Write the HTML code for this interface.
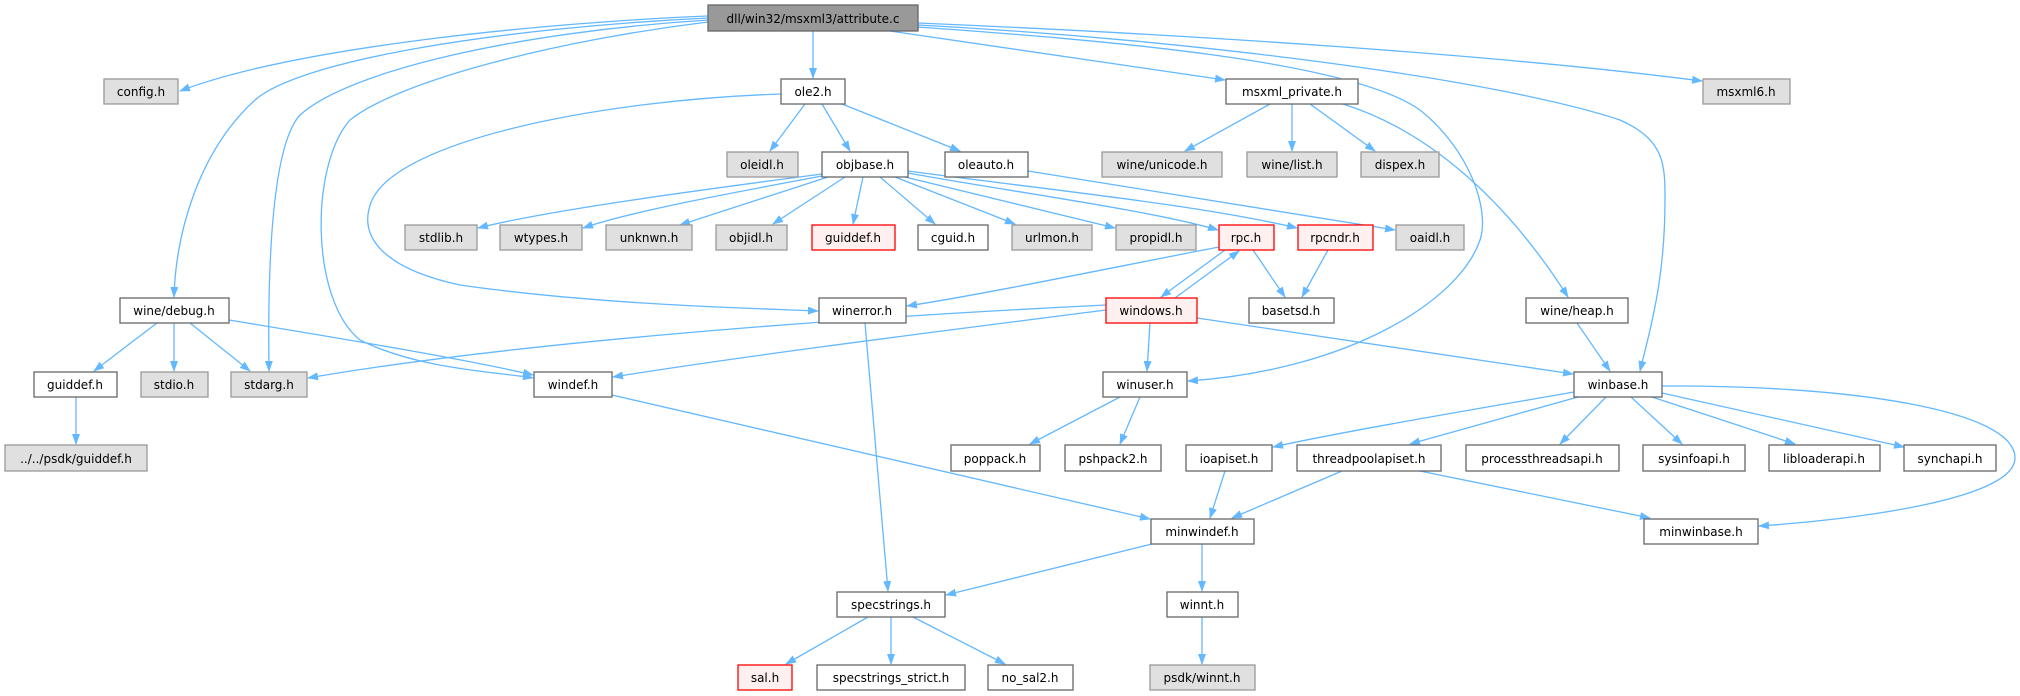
<!DOCTYPE html>
<html><head><meta charset="utf-8"><style>
html,body{margin:0;padding:0;background:#fff;width:2020px;height:696px;overflow:hidden}
svg{display:block}
text{font-family:"DejaVu Sans","Liberation Sans",sans-serif;font-size:12px;fill:#000;text-anchor:middle}
.e{fill:none;stroke:#63b8ff;stroke-width:1.3}
.w{fill:#fff;stroke:#666;stroke-width:1.3}
.g{fill:#e0e0e0;stroke:#999;stroke-width:1.3}
.r{fill:#fff0f0;stroke:#f00;stroke-width:1.3}
.k{fill:#999;stroke:#666;stroke-width:1.3}
</style></head><body>
<svg width="2020" height="696" viewBox="0 0 2020 696" xmlns="http://www.w3.org/2000/svg">
<defs><marker id="a" markerUnits="userSpaceOnUse" markerWidth="11" markerHeight="8" refX="10" refY="4" orient="auto"><path d="M0,0 L11,4 L0,8 z" fill="#63b8ff"/></marker></defs>
<g marker-end="url(#a)">
<path class="e" d="M708,16 C560,22 300,45 180,91"/>
<path class="e" d="M708,18 C500,28 300,60 255,100 C200,150 176,230 174,297"/>
<path class="e" d="M708,20 C520,32 350,70 300,115 C268,150 268,300 269,371"/>
<path class="e" d="M708,22 C560,40 400,80 350,120 C310,165 310,300 360,340 C420,370 500,372 533,378"/>
<path class="e" d="M781,94 C600,100 400,140 372,200 C355,240 390,270 460,285 C600,305 750,308 818,311"/>
<path class="e" d="M813,31 L813,78"/>
<path class="e" d="M890,31 L1225,80"/>
<path class="e" d="M918,23 C1200,35 1500,55 1702,81"/>
<path class="e" d="M918,25 C1200,40 1500,80 1620,120 C1665,140 1665,165 1665,200 C1665,280 1650,330 1640,371"/>
<path class="e" d="M918,27 C1100,40 1350,60 1420,110 C1470,150 1490,210 1480,240 C1460,300 1350,370 1188,381"/>
<path class="e" d="M805,104 L770,151"/>
<path class="e" d="M822,104 L850,151"/>
<path class="e" d="M842,104 L960,151"/>
<path class="e" d="M1270,104 L1185,151"/>
<path class="e" d="M1292,104 L1292,151"/>
<path class="e" d="M1310,104 L1375,151"/>
<path class="e" d="M1343,104 C1420,128 1500,190 1568,297"/>
<path class="e" d="M1028,171 L1395,230"/>
<path class="e" d="M822,174 C700,190 550,210 478,228"/>
<path class="e" d="M822,176 C720,195 630,212 583,228"/>
<path class="e" d="M828,177 L680,225"/>
<path class="e" d="M845,177 L773,224"/>
<path class="e" d="M863,177 L853,224"/>
<path class="e" d="M880,177 L935,224"/>
<path class="e" d="M895,177 L1015,224"/>
<path class="e" d="M905,177 L1115,228"/>
<path class="e" d="M908,173 C1000,190 1150,210 1218,230"/>
<path class="e" d="M908,171 C1050,190 1200,205 1297,228"/>
<path class="e" d="M1219,247 C1100,270 980,295 907,306"/>
<path class="e" d="M1225,250 L1161,297"/>
<path class="e" d="M1175,298 L1239,251"/>
<path class="e" d="M1253,250 L1285,297"/>
<path class="e" d="M1328,250 L1302,297"/>
<path class="e" d="M157,323 L94,371"/>
<path class="e" d="M174,323 L174,371"/>
<path class="e" d="M190,323 L250,371"/>
<path class="e" d="M229,320 C350,340 470,360 533,375"/>
<path class="e" d="M1106,305 C800,320 500,345 308,378"/>
<path class="e" d="M1106,310 C950,330 750,355 613,377"/>
<path class="e" d="M1150,323 L1147,371"/>
<path class="e" d="M1197,318 L1573,374"/>
<path class="e" d="M1577,323 L1610,371"/>
<path class="e" d="M865,323 L888,591"/>
<path class="e" d="M76,397 L76,444"/>
<path class="e" d="M612,395 L1150,519"/>
<path class="e" d="M1120,397 L1030,444"/>
<path class="e" d="M1140,397 L1120,444"/>
<path class="e" d="M1574,392 C1500,405 1350,430 1273,447"/>
<path class="e" d="M1578,397 L1410,444"/>
<path class="e" d="M1606,397 L1560,444"/>
<path class="e" d="M1631,397 L1682,444"/>
<path class="e" d="M1652,397 L1795,444"/>
<path class="e" d="M1662,393 L1904,447"/>
<path class="e" d="M1662,386 C1850,385 2015,410 2015,458 C2015,500 1850,520 1759,526"/>
<path class="e" d="M1225,471 L1210,518"/>
<path class="e" d="M1342,471 L1232,518"/>
<path class="e" d="M1420,471 L1650,518"/>
<path class="e" d="M1152,544 L946,595"/>
<path class="e" d="M1202,544 L1202,591"/>
<path class="e" d="M868,617 L786,664"/>
<path class="e" d="M891,617 L891,664"/>
<path class="e" d="M913,617 L1005,664"/>
<path class="e" d="M1202,617 L1202,664"/>
</g>
<g>
<rect class="k" x="708" y="5" width="210" height="26"/><text x="813" y="23">dll/win32/msxml3/attribute.c</text>
<rect class="g" x="104" y="79" width="74" height="25"/><text x="141" y="96">config.h</text>
<rect class="w" x="781" y="79" width="64" height="25"/><text x="813" y="96">ole2.h</text>
<rect class="w" x="1226" y="79" width="132" height="25"/><text x="1292" y="96">msxml_private.h</text>
<rect class="g" x="1703" y="79" width="87" height="25"/><text x="1746" y="96">msxml6.h</text>
<rect class="g" x="727" y="152" width="71" height="25"/><text x="762" y="169">oleidl.h</text>
<rect class="w" x="822" y="152" width="86" height="25"/><text x="865" y="169">objbase.h</text>
<rect class="w" x="945" y="152" width="83" height="25"/><text x="986" y="169">oleauto.h</text>
<rect class="g" x="1102" y="152" width="120" height="25"/><text x="1162" y="169">wine/unicode.h</text>
<rect class="g" x="1247" y="152" width="90" height="25"/><text x="1292" y="169">wine/list.h</text>
<rect class="g" x="1361" y="152" width="78" height="25"/><text x="1400" y="169">dispex.h</text>
<rect class="g" x="405" y="225" width="72" height="25"/><text x="441" y="242">stdlib.h</text>
<rect class="g" x="500" y="225" width="82" height="25"/><text x="541" y="242">wtypes.h</text>
<rect class="g" x="606" y="225" width="86" height="25"/><text x="649" y="242">unknwn.h</text>
<rect class="g" x="716" y="225" width="71" height="25"/><text x="751" y="242">objidl.h</text>
<rect class="r" x="812" y="225" width="83" height="25"/><text x="853" y="242">guiddef.h</text>
<rect class="w" x="918" y="225" width="70" height="25"/><text x="953" y="242">cguid.h</text>
<rect class="g" x="1012" y="225" width="80" height="25"/><text x="1052" y="242">urlmon.h</text>
<rect class="g" x="1116" y="225" width="80" height="25"/><text x="1156" y="242">propidl.h</text>
<rect class="r" x="1219" y="225" width="55" height="25"/><text x="1246" y="242">rpc.h</text>
<rect class="r" x="1298" y="225" width="75" height="25"/><text x="1335" y="242">rpcndr.h</text>
<rect class="g" x="1396" y="225" width="68" height="25"/><text x="1430" y="242">oaidl.h</text>
<rect class="w" x="120" y="298" width="109" height="25"/><text x="174" y="315">wine/debug.h</text>
<rect class="w" x="819" y="298" width="87" height="25"/><text x="862" y="315">winerror.h</text>
<rect class="r" x="1106" y="298" width="91" height="25"/><text x="1151" y="315">windows.h</text>
<rect class="w" x="1249" y="298" width="85" height="25"/><text x="1291" y="315">basetsd.h</text>
<rect class="w" x="1526" y="298" width="102" height="25"/><text x="1577" y="315">wine/heap.h</text>
<rect class="w" x="34" y="372" width="83" height="25"/><text x="75" y="389">guiddef.h</text>
<rect class="g" x="141" y="372" width="67" height="25"/><text x="174" y="389">stdio.h</text>
<rect class="g" x="231" y="372" width="76" height="25"/><text x="269" y="389">stdarg.h</text>
<rect class="w" x="534" y="372" width="78" height="25"/><text x="573" y="389">windef.h</text>
<rect class="w" x="1103" y="372" width="84" height="25"/><text x="1145" y="389">winuser.h</text>
<rect class="w" x="1574" y="372" width="88" height="25"/><text x="1618" y="389">winbase.h</text>
<rect class="g" x="5" y="445" width="142" height="26"/><text x="76" y="463">../../psdk/guiddef.h</text>
<rect class="w" x="951" y="445" width="89" height="26"/><text x="995" y="463">poppack.h</text>
<rect class="w" x="1065" y="445" width="96" height="26"/><text x="1113" y="463">pshpack2.h</text>
<rect class="w" x="1186" y="445" width="86" height="26"/><text x="1229" y="463">ioapiset.h</text>
<rect class="w" x="1297" y="445" width="144" height="26"/><text x="1369" y="463">threadpoolapiset.h</text>
<rect class="w" x="1466" y="445" width="153" height="26"/><text x="1542" y="463">processthreadsapi.h</text>
<rect class="w" x="1643" y="445" width="102" height="26"/><text x="1694" y="463">sysinfoapi.h</text>
<rect class="w" x="1769" y="445" width="111" height="26"/><text x="1824" y="463">libloaderapi.h</text>
<rect class="w" x="1904" y="445" width="92" height="26"/><text x="1950" y="463">synchapi.h</text>
<rect class="w" x="1151" y="519" width="103" height="25"/><text x="1202" y="536">minwindef.h</text>
<rect class="w" x="1644" y="519" width="114" height="25"/><text x="1701" y="536">minwinbase.h</text>
<rect class="w" x="837" y="592" width="108" height="25"/><text x="891" y="609">specstrings.h</text>
<rect class="w" x="1167" y="592" width="71" height="25"/><text x="1202" y="609">winnt.h</text>
<rect class="r" x="738" y="665" width="54" height="25"/><text x="765" y="682">sal.h</text>
<rect class="w" x="817" y="665" width="148" height="25"/><text x="891" y="682">specstrings_strict.h</text>
<rect class="w" x="988" y="665" width="85" height="25"/><text x="1030" y="682">no_sal2.h</text>
<rect class="g" x="1150" y="665" width="105" height="25"/><text x="1202" y="682">psdk/winnt.h</text>
</g>
</svg>
</body></html>
